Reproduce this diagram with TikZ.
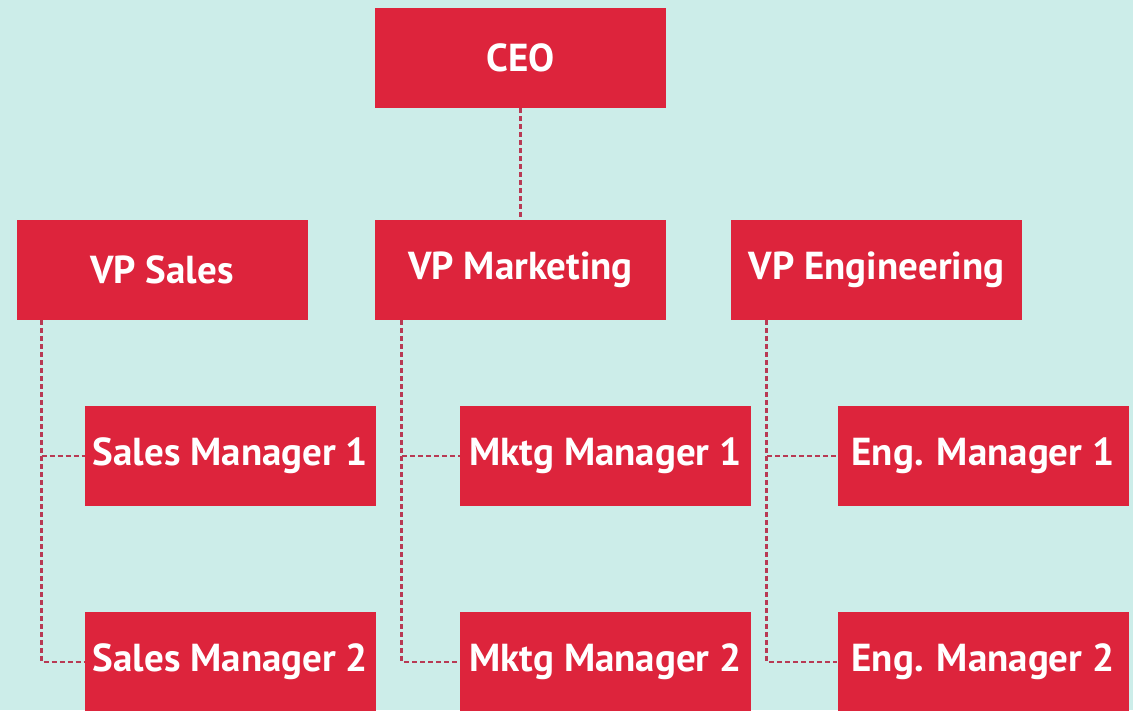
\documentclass[tikz,border=0pt]{standalone}
\usepackage{fontspec}
\setmainfont{PT Sans}
\usepackage{xcolor}
\usepackage{tikz}
\definecolor{bgteal}{RGB}{204,237,233}
\definecolor{boxred}{RGB}{221,36,60}
\definecolor{linered}{RGB}{184,58,84}

\begin{document}
\begin{tikzpicture}[x=1pt, y=-1pt,
  every node/.style={rectangle, fill=boxred, text=white, minimum width=291pt, minimum height=100pt, inner sep=0pt, font=\fontsize{39}{42}\selectfont\bfseries},
  link/.style={draw=linered, line width=2.8pt, dash pattern=on 5pt off 3pt}]
\fill[bgteal] (0,0) rectangle (1133,710);
\useasboundingbox (0,0) rectangle (1133,710);
% Boxes
\node (ceo) at (520.5,58) {CEO};
\node (vps) at (162,270) {VP Sales};
\node (vpm) at (520.5,270) {VP Marketing};
\node (vpe) at (876.5,270) {VP Engineering};
\node (sm1) at (230.5,456) {Sales Manager 1};
\node (sm2) at (230.5,662) {Sales Manager 2};
\node (mm1) at (605.5,456) {Mktg Manager 1};
\node (mm2) at (605.5,662) {Mktg Manager 2};
\node (em1) at (983,456) {Eng. Manager 1};
\node (em2) at (983,662) {Eng. Manager 2};

%Lines
\draw[link] (ceo) -- (vpm);
\draw[link] ([xshift=25pt]vps.south west) |- (sm1.west);
\draw[link] ([xshift=25pt]vps.south west) |- (sm2.west);
\draw[link] ([xshift=27pt]vpm.south west) |- (mm1.west);
\draw[link] ([xshift=27pt]vpm.south west) |- (mm2.west);
\draw[link] ([xshift=36pt]vpe.south west) |- (em1.west);
\draw[link] ([xshift=36pt]vpe.south west) |- (em2.west);
\end{tikzpicture}
\end{document}
